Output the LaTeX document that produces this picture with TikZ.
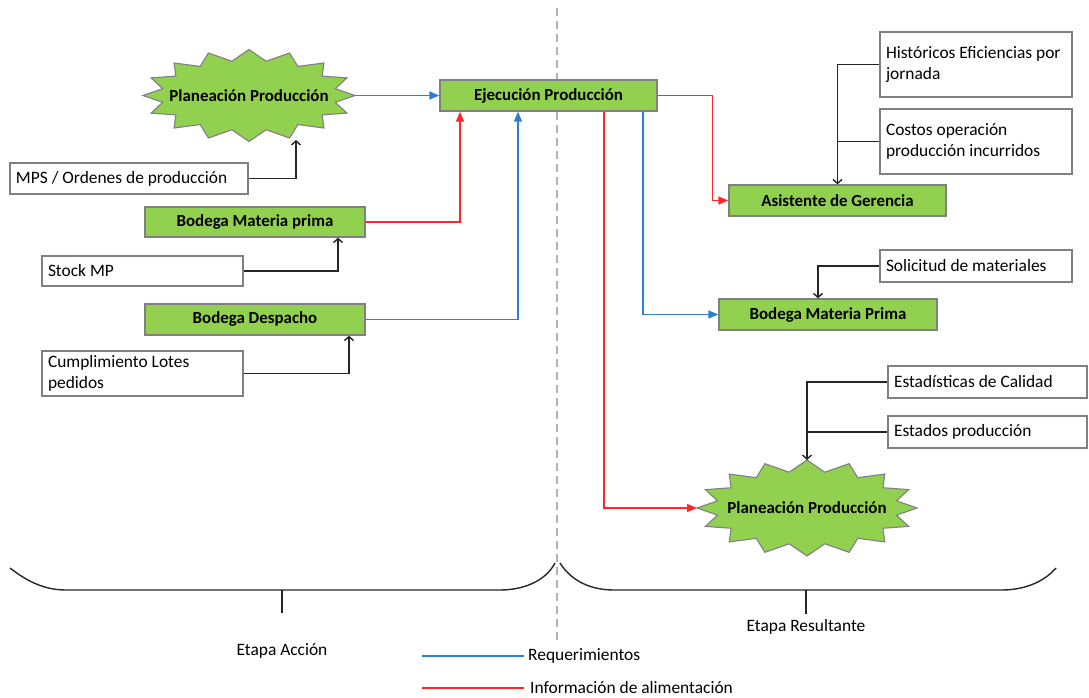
\documentclass[tikz,border=0pt]{standalone}
\usepackage{fontspec}
\setmainfont{Carlito}
\usetikzlibrary{arrows.meta,shapes.geometric}
\definecolor{boxgreen}{RGB}{146,208,80}
\definecolor{edgegray}{RGB}{128,128,128}
\definecolor{reqblue}{RGB}{46,128,206}
\definecolor{infored}{RGB}{255,40,40}
\newcommand\basesize{\fontsize{17.4}{20.5}\selectfont}
\newcommand\boldsize{\fontsize{16.9}{20}\selectfont\bfseries}
% left-aligned text block of a given width
\newcommand\leftblock[2]{\parbox{#1}{\raggedright #2}}
\tikzset{
  greenbox/.style={draw=edgegray, line width=1.3pt, fill=boxgreen, font=\boldsize, inner sep=0pt},
  infobox/.style={draw=edgegray, line width=1.1pt, fill=white, inner xsep=6pt, inner ysep=0pt},
  burstnode/.style={rectangle, draw=none, inner sep=0pt, outer sep=0pt, font=\boldsize},
  burstfill/.style={draw=edgegray, line width=1.1pt, fill=boxgreen, line join=miter},
  reqline/.style={draw=reqblue, line width=1.5pt, -{Triangle[length=10pt,width=8pt]}},
  infoline/.style={draw=infored, line width=1.5pt, -{Triangle[length=10pt,width=8pt]}},
  feedline/.style={draw=black!85, line width=1.4pt, -{Straight Barb[length=4pt,width=9pt]}},
  joinline/.style={draw=black!85, line width=1.4pt},
}
% 16-point burst drawn round an elliptical centre
\newcommand\burstshape[4]{%
  \draw[burstfill] plot[samples at={0,...,31}, variable=\k]
    ({#1+(isodd(\k) ? 0.83 : 1)*#3*cos(\k*11.25)},
     {#2+(isodd(\k) ? 0.76 : 1)*#4*sin(\k*11.25)}) -- cycle;}
\begin{document}
\begin{tikzpicture}[x=1pt, y=-1pt, font=\basesize]
\useasboundingbox (0,0) rectangle (1089,698);

% stage divider
\draw[gray!60, line width=1.2pt, dash pattern=on 8pt off 5pt] (557,8) -- (557,640);

% left column
\burstshape{249}{95.5}{106}{46}
\node[burstnode, minimum width=212pt, minimum height=92pt] (pp1) at (249,95.5) {Planeación Producción};
\node[greenbox, minimum width=217pt, minimum height=31pt] (ejec) at (548.5,95.5) {Ejecución Producción};
\node[infobox, minimum height=31pt] (mps) at (129,178.5) {\leftblock{226pt}{MPS / Ordenes de producción}};
\node[greenbox, minimum width=220pt, minimum height=30pt] (bmp) at (255,222) {Bodega Materia prima};
\node[infobox, minimum height=30pt] (stock) at (142.5,271) {\leftblock{189pt}{Stock MP}};
\node[greenbox, minimum width=220pt, minimum height=31pt] (bdesp) at (255,319.5) {Bodega Despacho};
\node[infobox, minimum height=45pt] (cumpl) at (142.5,373.5) {\leftblock{189pt}{Cumplimiento Lotes\\pedidos}};

% right column
\node[infobox, minimum height=65pt] (hist) at (976,64.5) {\leftblock{180pt}{Históricos Eficiencias por\\jornada}};
\node[infobox, minimum height=65pt] (costos) at (976,141.5) {\leftblock{180pt}{Costos operación\\producción incurridos}};
\node[greenbox, minimum width=217pt, minimum height=31pt] (asis) at (837.5,200.5) {Asistente de Gerencia};
\node[infobox, minimum height=32pt] (solic) at (976,266) {\leftblock{180pt}{Solicitud de materiales}};
\node[greenbox, minimum width=218pt, minimum height=31pt] (bmp2) at (828,314.5) {Bodega Materia Prima};
\node[infobox, minimum height=32pt] (estad) at (987.5,382) {\leftblock{187pt}{Estadísticas de Calidad}};
\node[infobox, minimum height=32pt] (estados) at (987.5,432) {\leftblock{187pt}{Estados producción}};
\burstshape{807}{508}{110}{48}
\node[burstnode, minimum width=220pt, minimum height=96pt] (pp2) at (807,508) {Planeación Producción};

% flows into execution
\coordinate (pp1in) at (296,140);
\draw[reqline] (pp1.east) -- (ejec.west);
\draw[feedline] (mps.east) -| (pp1in);
\draw[infoline] (bmp.east) -| ([xshift=-88.5pt]ejec.south);
\draw[feedline] (stock.east) -| ([xshift=83pt]bmp.south);
\draw[reqline] (bdesp.east) -| ([xshift=-30.5pt]ejec.south);
\draw[feedline] (cumpl.east) -| ([xshift=94pt]bdesp.south);

% flows out of execution
\draw[infoline] (ejec.east) -- ++(55,0) |- (asis.west);
\draw[reqline] ([xshift=94.5pt]ejec.south) |- (bmp2.west);
\draw[infoline] ([xshift=55.5pt]ejec.south) |- (pp2.west);

% supporting information
\draw[feedline] (hist.west) -| (asis.north);
\draw[joinline] (costos.west) -- (costos.west -| asis.north);
\draw[feedline] (solic.west) -| ([xshift=-10pt]bmp2.north);
\draw[feedline] (estad.west) -| (pp2.north);
\draw[joinline] (estados.west) -- (estados.west -| pp2.north);

% stage braces
\draw[black!85, line width=1.4pt] (10,568) .. controls (28,582) and (45,590) .. (66,590) -- (500,590) .. controls (522,590) and (545,582) .. (555,563);
\draw[black!85, line width=1.2pt] (282,590) -- (282,613);
\draw[black!85, line width=1.4pt] (560,563) .. controls (572,582) and (592,590) .. (614,590) -- (1002,590) .. controls (1024,590) and (1044,582) .. (1056,568);
\draw[black!85, line width=1.2pt] (806,590) -- (806,614);
\node (accion) at (282,651) {Etapa Acción};
\node (result) at (806,627) {Etapa Resultante};

% legend
\node[anchor=west, inner sep=0pt] (lgreq) at (528,656) {Requerimientos};
\node[anchor=west, inner sep=0pt] (lginfo) at (530,688) {Información de alimentación};
\draw[reqblue, line width=2.6pt] (lgreq.west) ++(-4,0) -- ++(-102,0);
\draw[infored, line width=2.6pt] (lginfo.west) ++(-6,0) -- ++(-102,0);
\end{tikzpicture}
\end{document}
